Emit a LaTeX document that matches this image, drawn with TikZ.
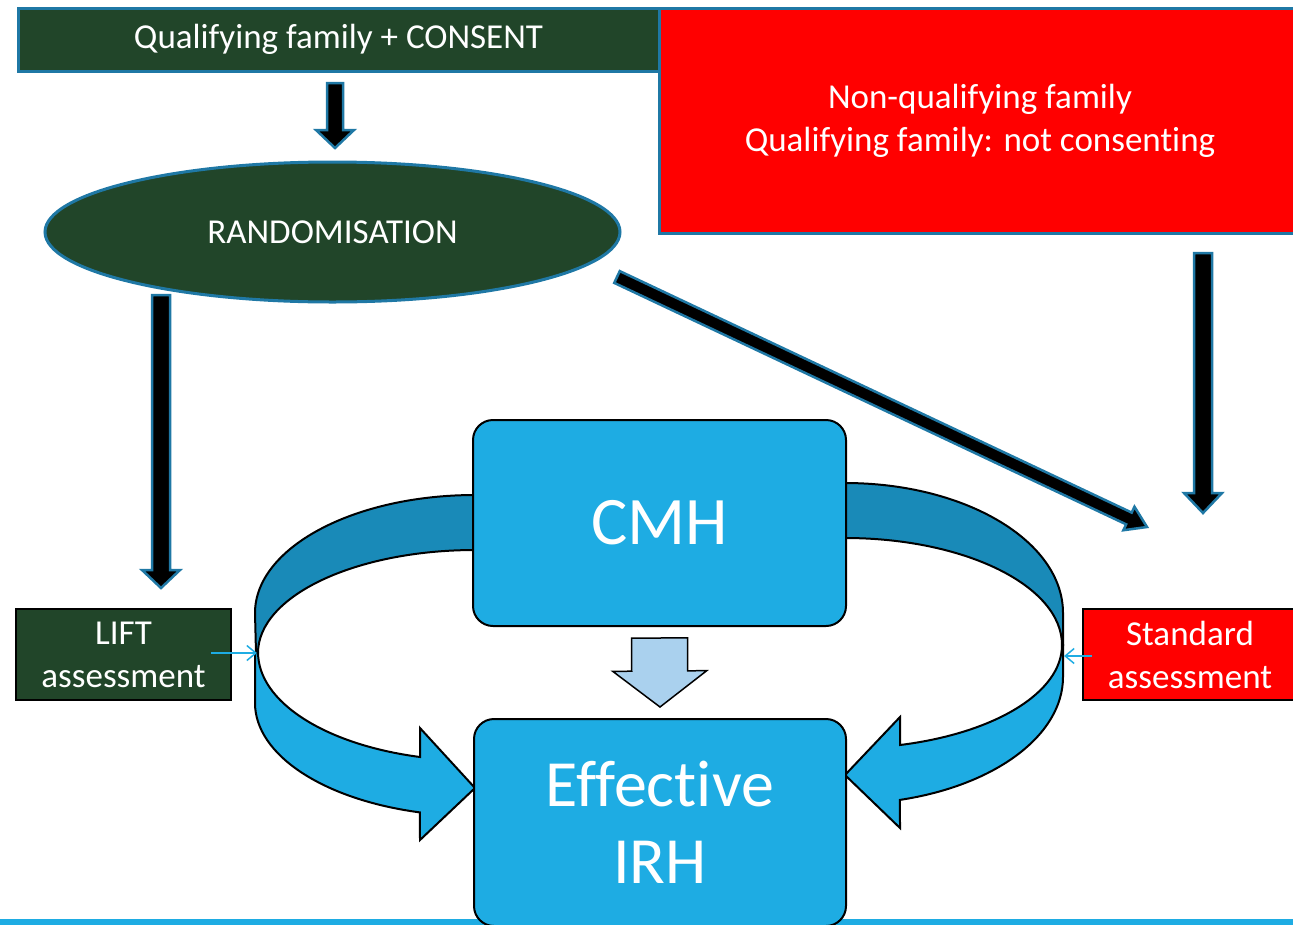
\documentclass[tikz,border=0pt]{standalone}
\usepackage{fontspec}
\setmainfont[Ligatures=NoCommon]{Carlito}
\usetikzlibrary{calc,shapes.geometric,arrows.meta}
\definecolor{dkgreen}{RGB}{33,69,41}
\definecolor{bordblue}{RGB}{31,120,165}
\definecolor{skyblue}{RGB}{30,172,227}
\definecolor{bandblue}{RGB}{25,138,184}
\definecolor{paleblue}{RGB}{170,209,238}
\definecolor{pptred}{RGB}{255,0,0}
% #1 style, #2 start, #3 end, #4 shaft half width, #5 head half width, #6 head length
\newcommand\blockarrow[6]{%
  \coordinate (ba-h) at ($(#3)!#6!(#2)$);
  \filldraw[#1] ($(#2)!#4!90:(#3)$) -- ($(ba-h)!#4!-90:(#2)$) -- ($(ba-h)!#5!-90:(#2)$)
    -- (#3) -- ($(ba-h)!#5!90:(#2)$) -- ($(ba-h)!#4!90:(#2)$) -- ($(#2)!#4!-90:(#3)$) -- cycle;
}
\tikzset{
  txt/.style={text=white, font=\fontsize{35}{43}\selectfont, align=center, inner sep=0pt},
  greenbox/.style={txt, rectangle, fill=dkgreen, draw=bordblue, line width=3pt},
  redbox/.style={txt, rectangle, fill=pptred, draw=bordblue, line width=3pt},
  smallgreen/.style={txt, rectangle, fill=dkgreen, draw=black, line width=2pt},
  smallred/.style={txt, rectangle, fill=pptred, draw=black, line width=2pt},
  bluebox/.style={rectangle, rounded corners=20pt, fill=skyblue, draw=black, line width=2pt,
    text=white, align=center, inner sep=0pt},
  blkarrow/.style={fill=black, draw=bordblue, line width=2.5pt, line join=miter},
  palearrow/.style={fill=paleblue, draw=black, line width=1.5pt, line join=miter},
  bandback/.style={fill=bandblue, draw=black, line width=2pt},
  bandfront/.style={fill=skyblue, draw=black, line width=2pt},
  thinlink/.style={draw=skyblue, line width=1.5pt, -{Straight Barb[length=9pt,width=15pt]}}
}
\begin{document}
\begin{tikzpicture}[x=1pt,y=1pt]
\useasboundingbox (0,0) rectangle (1293,-924);

% bottom bar
\fill[skyblue] (0,-919) rectangle (1293,-925);

% curved band arrows (left)
\filldraw[bandback] (475,-495) arc[start angle=90, end angle=180, x radius=220, y radius=118]
  -- (256,-653) -- (258,-653) arc[start angle=180, end angle=90, x radius=217, y radius=103] -- cycle;
\filldraw[bandfront] (258,-653) -- (255,-653) -- (255,-703)
  arc[start angle=180, end angle=255.5, x radius=220, y radius=113]
  -- (420,-840) -- (475,-788) -- (420,-728) -- (420,-757)
  arc[start angle=255.3, end angle=180, x radius=217, y radius=108] -- cycle;
% curved band arrows (right)
\filldraw[bandback] (845,-483) arc[start angle=90, end angle=0, x radius=218, y radius=130]
  -- (1063,-645) -- (1062,-645) arc[start angle=0, end angle=90, x radius=217, y radius=107] -- cycle;
\filldraw[bandfront] (1062,-645) -- (1063,-645) -- (1063,-677)
  arc[start angle=0, end angle=-75.4, x radius=218, y radius=127]
  -- (900,-828) -- (845,-775) -- (900,-717) -- (900,-745)
  arc[start angle=-75.3, end angle=0, x radius=217, y radius=103] -- cycle;

% nodes
\node[greenbox, minimum width=641pt, minimum height=63pt] (qual) at (338.5,-39.5) {Qualifying family + CONSENT};
\node[redbox, minimum width=642pt, minimum height=225pt] (nonq) at (980,-120.5)
  {Non-qualifying family\\Qualifying family: not consenting};
\node[ellipse, fill=dkgreen, draw=bordblue, line width=3pt, minimum width=575pt, minimum height=140pt,
  text=white, font=\fontsize{35}{43}\selectfont, inner sep=0pt] (rand) at (332.5,-232) {RANDOMISATION};
\node[bluebox, minimum width=373pt, minimum height=206pt, font=\fontsize{68}{80}\selectfont] (cmh) at (659.5,-523) {CMH};
\node[bluebox, minimum width=372pt, minimum height=207pt, font=\fontsize{66}{77}\selectfont] (eff) at (660,-822.5) {Effective\\IRH};
\node[smallgreen, minimum width=215pt, minimum height=91pt] (lift) at (123.5,-654.5) {LIFT\\assessment};
\node[smallred, minimum width=214pt, minimum height=91pt] (std) at (1190,-654.5) {Standard\\assessment};

% connector end points
\coordinate (a1s) at (335,-83);   \coordinate (a1e) at (335,-148);
\coordinate (a2s) at (161,-295);  \coordinate (a2e) at (161,-588);
\coordinate (a3s) at (1203,-253); \coordinate (a3e) at (1203,-513);
\coordinate (a4s) at (617,-277);  \coordinate (a4e) at (1147,-527);
\coordinate (a5s) at ($(cmh.south)+(0,-11)$); \coordinate (a5e) at ($(eff.north)+(0,11)$);
\coordinate (lcross) at (257,-653);
\coordinate (rcross) at (1064,-656);

\blockarrow{blkarrow}{a1s}{a1e}{8pt}{19pt}{18pt}
\blockarrow{blkarrow}{a2s}{a2e}{9pt}{19pt}{18pt}
\blockarrow{blkarrow}{a3s}{a3e}{9pt}{19pt}{20pt}
\blockarrow{blkarrow}{a4s}{a4e}{6.5pt}{13pt}{20pt}
\blockarrow{palearrow}{a5s}{a5e}{28pt}{47pt}{36pt}

\draw[thinlink] ($(lift.east)+(-21,1.5)$) -- (lcross);
\draw[thinlink] ($(std.west)+(10,-1.5)$) -- (rcross);
\end{tikzpicture}
\end{document}
